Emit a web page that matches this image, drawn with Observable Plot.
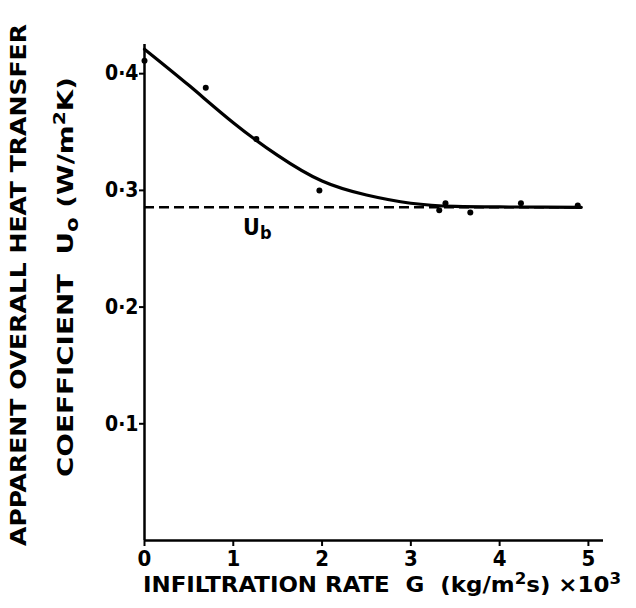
<!DOCTYPE html>
<html>
<head>
<meta charset="utf-8">
<script src="https://cdn.jsdelivr.net/npm/d3@7"></script>
<script src="https://cdn.jsdelivr.net/npm/@observablehq/plot@0.6"></script>
<style>
  html, body { margin: 0; padding: 0; background: #fff; }
  svg { display: block; }
</style>
</head>
<body>
<div id="chart"></div>
<script>
// Measured points: infiltration rate G (kg/m2s x10^3) vs Uo (W/m2K)
const pointG = [0, 0.69, 1.26, 1.97, 3.32, 3.39, 3.67, 4.24, 4.88];
const pointU = [0.411, 0.388, 0.344, 0.300, 0.283, 0.289, 0.281, 0.289, 0.287];

// Fitted curve
const curveG = [0, 0.5, 1.0, 1.5, 2.0, 2.5, 3.0, 3.5, 4.0, 4.5, 4.92];
const curveU = [0.421, 0.390, 0.358, 0.330, 0.308, 0.296, 0.289, 0.2863, 0.2858, 0.2856, 0.2855];

// Baseline Ub
const ubValue = 0.2855;
const ubLabel = "U";
const ubSub = "b";

const xTicks = [0, 1, 2, 3, 4, 5];
const yTicks = [0.1, 0.2, 0.3, 0.4];
const yTickLabels = ["0·1", "0·2", "0·3", "0·4"];
const xTitle = "INFILTRATION RATE  G  (kg/m";
const yTitle1 = "APPARENT OVERALL HEAT TRANSFER";
const yTitle2 = "COEFFICIENT  U";

const points = pointG.map((g, i) => ({g, u: pointU[i]}));
const curve = curveG.map((g, i) => ({g, u: curveU[i]}));

const FONT = "'DejaVu Sans Condensed', 'DejaVu Sans', sans-serif";
const TFONT = "'DejaVu Sans Condensed', 'DejaVu Sans', sans-serif";

const plot = Plot.plot({
  width: 636,
  height: 608,
  marginLeft: 144,
  marginRight: 33,
  marginTop: 44,
  marginBottom: 68,
  style: {fontFamily: FONT, fontWeight: "bold", color: "#000", background: "#fff"},
  x: {domain: [0, 5.17], label: null},
  y: {domain: [0, 0.425], label: null},
  marks: [
    Plot.axisX({ticks: xTicks, tickSize: 6, tickPadding: 4, fontSize: 22, fontWeight: "bold", tickFormat: d => String(d), label: null, strokeWidth: 2}),
    Plot.axisY({ticks: yTicks, tickSize: 5, tickPadding: 1, fontSize: 21, fontWeight: "bold", tickFormat: d => yTickLabels[yTicks.indexOf(d)], label: null, strokeWidth: 2}),
    Plot.ruleX([0], {stroke: "#000", strokeWidth: 2.5}),
    Plot.ruleY([0], {stroke: "#000", strokeWidth: 2.5}),
    Plot.ruleY([ubValue], {x1: 0, x2: 4.92, stroke: "#000", strokeWidth: 2.5, strokeDasharray: "10,5"}),
    Plot.line(curve, {x: "g", y: "u", curve: "natural", stroke: "#000", strokeWidth: 3.2}),
    Plot.dot(points, {x: "g", y: "u", r: 3, fill: "#000", stroke: "none"})
  ]
});

const svg = d3.select(plot);
const xs = plot.scale("x"), ys = plot.scale("y");

function txt(sel, f = FONT) {
  return sel.attr("font-family", f).attr("font-weight", "bold").attr("fill", "#000");
}

// Ub label
const ub = txt(svg.append("text"))
  .attr("text-anchor", "start")
  .attr("x", xs.apply(1.116)).attr("y", ys.apply(0.261))
  .attr("font-size", 23);
ub.append("tspan").text(ubLabel);
ub.append("tspan").attr("font-size", 18).attr("dy", 4).text(ubSub);

// X axis title
const xt = txt(svg.append("text"), TFONT)
  .attr("text-anchor", "start")
  .attr("x", 143).attr("y", 592)
  .attr("font-size", 22)
  .attr("textLength", 478).attr("lengthAdjust", "spacingAndGlyphs");
xt.append("tspan").text(xTitle);
xt.append("tspan").attr("font-size", 16).attr("dy", -8).text("2");
xt.append("tspan").attr("dy", 8).text("s) ×10");
xt.append("tspan").attr("font-size", 16).attr("dy", -8).text("3");

// Y axis titles (rotated)
txt(svg.append("text"), TFONT)
  .attr("transform", "translate(26,285) rotate(-90)")
  .attr("text-anchor", "middle")
  .attr("font-size", 22)
  .attr("textLength", 522).attr("lengthAdjust", "spacingAndGlyphs")
  .text(yTitle1);

const t2 = txt(svg.append("text"), TFONT)
  .attr("transform", "translate(73,277) rotate(-90)")
  .attr("text-anchor", "middle")
  .attr("font-size", 22)
  .attr("textLength", 400).attr("lengthAdjust", "spacingAndGlyphs");
t2.append("tspan").text(yTitle2);
t2.append("tspan").attr("font-size", 17).attr("dy", 5).text("o");
t2.append("tspan").attr("dy", -5).text(" (W/m");
t2.append("tspan").attr("font-size", 16).attr("dy", -8).text("2");
t2.append("tspan").attr("dy", 8).text("K)");

document.getElementById("chart").appendChild(plot);
</script>
</body>
</html>
